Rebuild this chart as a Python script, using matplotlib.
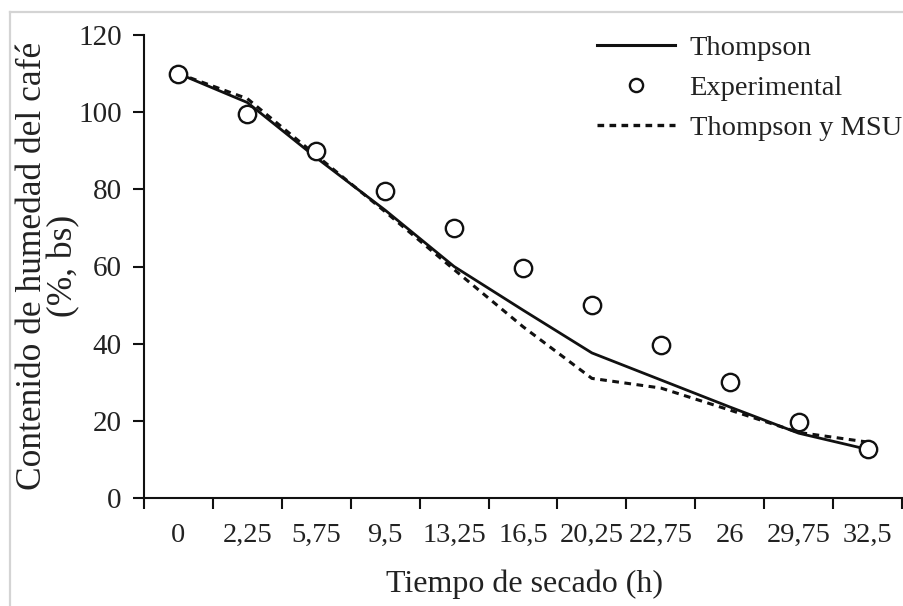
import matplotlib
matplotlib.use("Agg")
import matplotlib.pyplot as plt
from matplotlib.lines import Line2D
import numpy as np

# Drying time categories (h) and moisture content (% dry basis)
tiempos = ["0", "2,25", "5,75", "9,5", "13,25", "16,5", "20,25", "22,75", "26", "29,75", "32,5"]
thompson = [110, 102.5, 88.2, 74.6, 60.0, 48.7, 37.6, 30.6, 23.6, 16.8, 12.6]
experimental = [110, 99.5, 90, 79.6, 70, 59.5, 50, 39.6, 30, 19.7, 12.7]
thompson_msu = [110, 103.5, 88.8, 74.2, 59.2, 44.4, 31.0, 28.5, 22.8, 17.0, 14.5]

plt.rcParams["font.family"] = ["Liberation Serif", "DejaVu Serif"]
txt_color = "#222222"
fs = 20.5

W, H = 904, 606
fig = plt.figure(figsize=(W / 100, H / 100), dpi=100)

# light frame along the top and left of the figure
frame_kw = dict(transform=fig.transFigure, color="#d4d4d4", linewidth=1.6, zorder=0)
fig.lines.append(Line2D([10 / W, 1.0], [1 - 12 / H, 1 - 12 / H], **frame_kw))
fig.lines.append(Line2D([10 / W, 10 / W], [0.0, 1 - 12 / H], **frame_kw))

ax = fig.add_axes([144 / W, 1 - 498 / H, (902 - 144) / W, (498 - 35) / H])

x = np.arange(len(tiempos))
ax.plot(x, thompson, color="#111111", lw=2.0, solid_joinstyle="round", zorder=2)
ax.plot(x, thompson_msu, color="#111111", lw=2.2, linestyle=(0, (2.2, 1.8)), zorder=2)
ax.plot(x, experimental, linestyle="none", marker="o", markersize=12.5,
        markerfacecolor="white", markeredgecolor="#111111", markeredgewidth=1.7, zorder=3)

ax.set_xlim(-0.5, len(tiempos) - 0.5)
ax.set_ylim(0, 120)
ax.set_yticks(np.arange(0, 121, 20))

# tick marks on category boundaries, labels on category centres
ax.set_xticks(np.arange(-0.5, len(tiempos), 1.0))
ax.set_xticklabels([])
ax.set_xticks(x, minor=True)
ax.set_xticklabels(tiempos, minor=True)
ax.tick_params(axis="x", which="major", length=8, width=1.5, color="#111111", direction="out")
ax.tick_params(axis="x", which="minor", length=0, pad=18, labelsize=fs, labelcolor=txt_color)
ax.tick_params(axis="y", which="major", length=8, width=1.5, color="#111111", direction="out",
               pad=8, labelsize=fs + 0.5, labelcolor=txt_color)

for s in ["top", "right"]:
    ax.spines[s].set_visible(False)
for s in ["left", "bottom"]:
    ax.spines[s].set_linewidth(1.5)
    ax.spines[s].set_color("#111111")

fig.text(524 / W, 1 - 584 / H, "Tiempo de secado (h)", ha="center", va="center",
         fontsize=23, color=txt_color)
fig.text(48 / W, 1 - 266 / H, "Contenido de humedad del café\n(%, bs)", ha="center",
         va="center", rotation=90, fontsize=25.5, color=txt_color, linespacing=0.95,
         multialignment="center")

handles = [
    Line2D([], [], color="#111111", lw=2.2),
    Line2D([], [], linestyle="none", marker="o", markersize=9.5, markerfacecolor="white",
           markeredgecolor="#111111", markeredgewidth=1.7),
    Line2D([], [], color="#111111", lw=2.4, linestyle=(0, (2.0, 1.6))),
]
leg = ax.legend(handles, ["Thompson", "Experimental", "Thompson y MSU"],
                loc="upper left", bbox_to_anchor=(597 / W, 1 - 35 / H),
                bbox_transform=fig.transFigure, frameon=False, fontsize=fs,
                handlelength=2.75, handletextpad=0.5, labelspacing=0.5,
                borderpad=0, borderaxespad=0)
for t in leg.get_texts():
    t.set_color(txt_color)

fig.savefig("out.png", dpi=100)
